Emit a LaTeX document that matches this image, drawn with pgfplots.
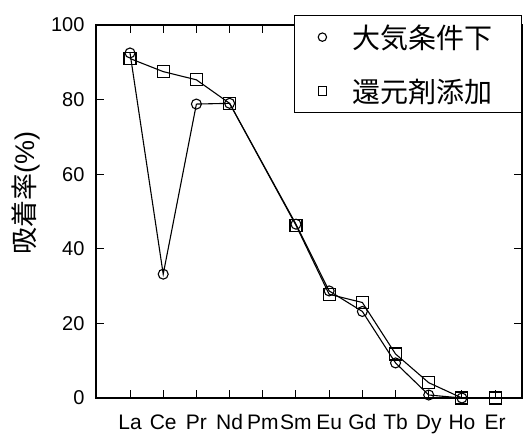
\documentclass[border=0pt]{standalone}
\usepackage{fontspec}
\setmainfont{Liberation Sans}
\newfontfamily\cjk{Noto Sans CJK JP}
\usepackage{pgfplots}
\pgfplotsset{compat=1.18}
\begin{document}
\begin{tikzpicture}
\useasboundingbox (-96pt,-37pt) rectangle (427pt,398pt);
\begin{axis}[
  at={(0pt,0pt)}, anchor=south west, scale only axis,
  width=426pt, height=373pt,
  xmin=-1.025, xmax=11.81, ymin=0, ymax=100,
  xtick={0,...,11},
  xticklabels={La,Ce,Pr,Nd,Pm,Sm,Eu,Gd,Tb,Dy,Ho,Er},
  ytick={0,20,...,100},
  tick align=inside, major tick length=8pt,
  tick style={black, line width=1pt},
  axis line style={line width=1.2pt},
  /pgf/number format/assume math mode=true,
  x tick label style={font=\fontsize{21}{21}\selectfont, anchor=base, yshift=-32pt},
  y tick label style={font=\fontsize{20}{20}\selectfont, xshift=-8pt},
  ylabel={{\cjk 吸着率}(\%)},
  ylabel style={font=\fontsize{27}{27}\selectfont, at={(axis description cs:-0.164,0.55)}, anchor=center},
  clip=false,
  legend cell align=left,
  legend style={at={(axis description cs:1,1.0268)}, anchor=north east,
    draw=black, line width=1.2pt, fill=white,
    font=\cjk\fontsize{28}{28}\selectfont,
    inner xsep=0pt, inner ysep=9pt, row sep=29pt,
    nodes={inner sep=0pt}},
  legend image code/.code={\path[draw=none] (0pt,0pt) -- (58pt,0pt); \draw[#1, only marks, mark size=4.2pt] plot coordinates {(28pt,0pt)};},
]
\addplot[black, line width=1.1pt, mark=o, mark size=5pt, mark options={fill=white, line width=1.1pt}]
  coordinates {(0,92.5)(1,33.2)(2,78.8)(3,79)(5,46.6)(6,28.7)(7,23.2)(8,9.4)(9,0.8)(10,0)};
\addlegendentry{大気条件下\hspace*{29pt}}
\addplot[black, line width=1.1pt, mark=square, mark size=6pt, mark options={fill=white, line width=1.1pt}]
  coordinates {(0,91)(1,87.5)(2,85.3)(3,79)(5,46.3)(6,27.8)(7,25.6)(8,11.8)(9,4.1)(10,0)(11,0)};
\addlegendentry{還元剤添加\hspace*{29pt}}
\end{axis}
\end{tikzpicture}
\end{document}
